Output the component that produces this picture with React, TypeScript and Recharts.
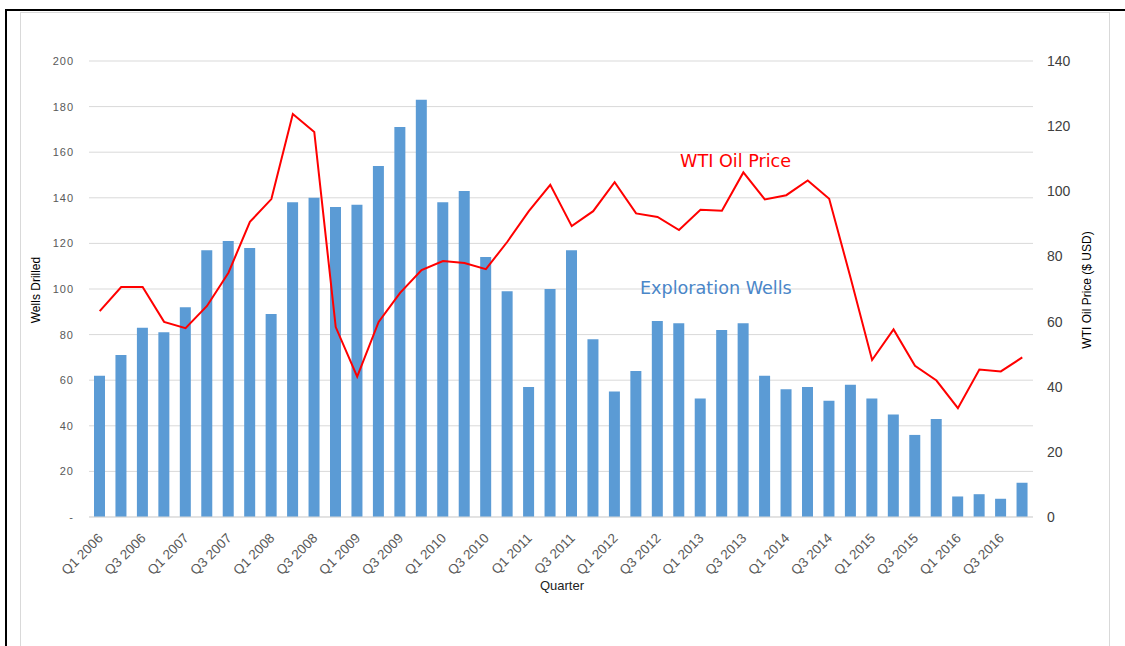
import React from 'react'
import { ComposedChart, Bar, Line, XAxis, YAxis, CartesianGrid } from 'recharts'

const quarters = [
  'Q1 2006', 'Q2 2006', 'Q3 2006', 'Q4 2006',
  'Q1 2007', 'Q2 2007', 'Q3 2007', 'Q4 2007',
  'Q1 2008', 'Q2 2008', 'Q3 2008', 'Q4 2008',
  'Q1 2009', 'Q2 2009', 'Q3 2009', 'Q4 2009',
  'Q1 2010', 'Q2 2010', 'Q3 2010', 'Q4 2010',
  'Q1 2011', 'Q2 2011', 'Q3 2011', 'Q4 2011',
  'Q1 2012', 'Q2 2012', 'Q3 2012', 'Q4 2012',
  'Q1 2013', 'Q2 2013', 'Q3 2013', 'Q4 2013',
  'Q1 2014', 'Q2 2014', 'Q3 2014', 'Q4 2014',
  'Q1 2015', 'Q2 2015', 'Q3 2015', 'Q4 2015',
  'Q1 2016', 'Q2 2016', 'Q3 2016', 'Q4 2016'
]

const explorationWells = [
  62, 71, 83, 81, 92, 117, 121, 118, 89, 138, 140, 136, 137, 154, 171, 183,
  138, 143, 114, 99, 57, 100, 117, 78, 55, 64, 86, 85, 52, 82, 85, 62,
  56, 57, 51, 58, 52, 45, 36, 43, 9, 10, 8, 15
]

const wtiPrice = [
  63.2, 70.6, 70.6, 59.9, 58.0, 64.8, 75.0, 90.6, 97.6, 123.7, 118.2, 58.3,
  43.1, 59.9, 68.8, 75.8, 78.6, 78.0, 76.1, 84.5, 93.9, 102.0, 89.3, 93.9,
  102.8, 93.2, 92.1, 88.1, 94.3, 94.0, 105.8, 97.5, 98.8, 103.3, 97.7, 73.4,
  48.2, 57.6, 46.4, 41.9, 33.4, 45.3, 44.7, 49.0
]

const wellTicks = [0, 20, 40, 60, 80, 100, 120, 140, 160, 180, 200]
const priceTicks = [0, 20, 40, 60, 80, 100, 120, 140]

const data = quarters.map((q, i) => ({
  quarter: q,
  wells: explorationWells[i],
  price: wtiPrice[i]
}))

const QuarterTick = (props: any) => {
  const { x, y, payload } = props
  const ax = x + 4
  const ay = y + 14
  return (
    <text
      x={ax}
      y={ay}
      transform={`rotate(-45, ${ax}, ${ay})`}
      textAnchor="end"
      fill="#595959"
      fontSize={13.5}
      fontFamily="Liberation Sans, Arial, sans-serif"
    >
      {payload.value}
    </text>
  )
}

export default function App() {
  return (
    <div style={{ position: 'absolute', left: 0, top: 0, width: 1125, height: 646, overflow: 'hidden', background: '#fff' }}>
      {/* outer frame */}
      <div style={{ position: 'absolute', left: 5, top: 9, width: 1200, height: 800, borderLeft: '2px solid #000', borderTop: '2px solid #000' }} />
      <div style={{ position: 'absolute', left: 20, top: 12, width: 1088, height: 800, border: '1px solid #d9d9d9' }} />

      <div style={{ position: 'absolute', left: 0, top: 0 }}>
        <ComposedChart width={1125} height={646} data={data} margin={{ top: 61, right: 0, bottom: 0, left: 0 }}>
          <CartesianGrid yAxisId="left" vertical={false} stroke="#d9d9d9" />
          <XAxis
            dataKey="quarter"
            interval={1}
            height={129}
            tick={<QuarterTick />}
            tickLine={false}
            axisLine={{ stroke: '#d9d9d9' }}
          />
          <YAxis
            yAxisId="left"
            orientation="left"
            width={89}
            domain={[0, 200]}
            ticks={wellTicks}
            tickFormatter={(v: number) => (v === 0 ? '-' : String(v))}
            axisLine={false}
            tickLine={false}
            tickMargin={9}
            tick={{ fill: '#595959', fontSize: 11, letterSpacing: 1, fontFamily: 'Liberation Sans, Arial, sans-serif' }}
          />
          <YAxis
            yAxisId="right"
            orientation="right"
            width={92}
            domain={[0, 140]}
            ticks={priceTicks}
            axisLine={false}
            tickLine={false}
            tickMargin={8}
            tick={{ fill: '#404040', fontSize: 14, fontFamily: 'Liberation Sans, Arial, sans-serif', textAnchor: 'start' }}
          />
          <Bar yAxisId="left" dataKey="wells" fill="#5b9bd5" barSize={11} isAnimationActive={false} />
          <Line
            yAxisId="right"
            dataKey="price"
            type="linear"
            stroke="#ff0000"
            strokeWidth={2}
            dot={false}
            activeDot={false}
            isAnimationActive={false}
          />
        </ComposedChart>
      </div>

      {/* axis titles */}
      <div style={{ position: 'absolute', left: 36, top: 290, transform: 'translate(-50%, -50%) rotate(-90deg)', whiteSpace: 'nowrap', fontSize: 12, fontFamily: 'Liberation Sans, Arial, sans-serif', color: '#000' }}>
        Wells Drilled
      </div>
      <div style={{ position: 'absolute', left: 1087, top: 290, transform: 'translate(-50%, -50%) rotate(-90deg)', whiteSpace: 'nowrap', fontSize: 12, fontFamily: 'Liberation Sans, Arial, sans-serif', color: '#000' }}>
        WTI Oil Price ($ USD)
      </div>
      <div style={{ position: 'absolute', left: 562, top: 585, transform: 'translate(-50%, -50%)', whiteSpace: 'nowrap', fontSize: 13, fontFamily: 'Liberation Sans, Arial, sans-serif', color: '#222' }}>
        Quarter
      </div>

      {/* series annotations */}
      <div style={{ position: 'absolute', left: 680, top: 161, transform: 'translateY(-50%)', whiteSpace: 'nowrap', fontSize: 17.6, fontFamily: 'DejaVu Sans, sans-serif', color: '#ff0000' }}>
        WTI Oil Price
      </div>
      <div style={{ position: 'absolute', left: 640, top: 288, transform: 'translateY(-50%)', whiteSpace: 'nowrap', fontSize: 17.6, fontFamily: 'DejaVu Sans, sans-serif', color: '#4a86c8' }}>
        Exploration Wells
      </div>
    </div>
  )
}
